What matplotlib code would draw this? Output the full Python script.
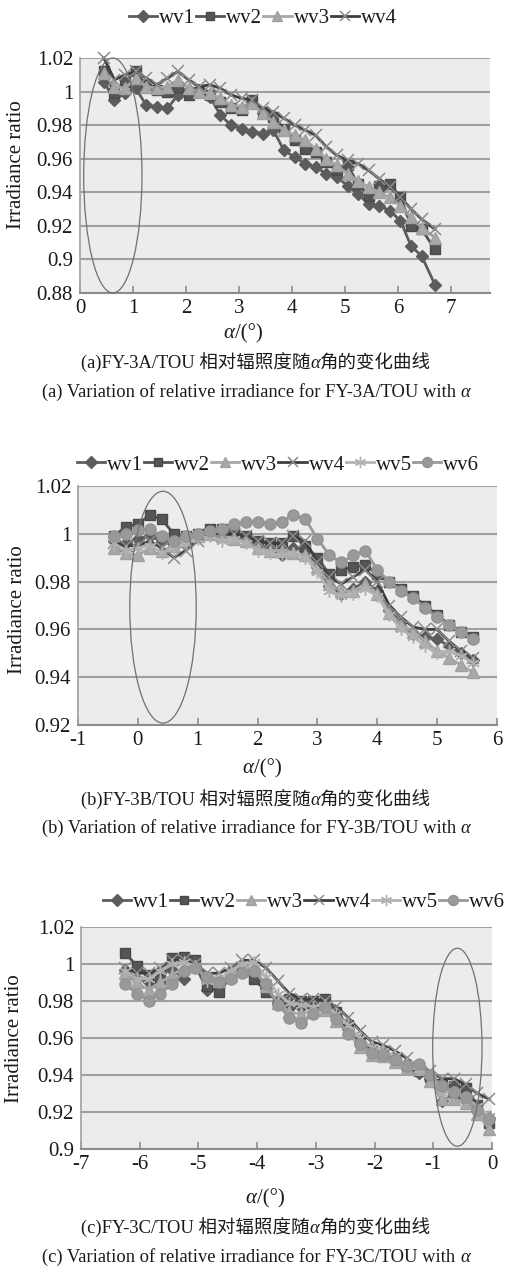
import matplotlib
matplotlib.use('Agg')
import matplotlib.pyplot as plt
from matplotlib.patches import Ellipse

W, H = 511, 1270
FAM = ['Liberation Serif', 'Noto Sans CJK SC', 'DejaVu Sans']
plt.rcParams['font.family'] = FAM
plt.rcParams['axes.unicode_minus'] = False

SERIES = ['wv1', 'wv2', 'wv3', 'wv4', 'wv5', 'wv6']

# ---------------- panel (a) FY-3A ----------------
A_X = [0.45, 0.65, 0.85, 1.05, 1.25, 1.45, 1.65, 1.85, 2.05, 2.25, 2.45, 2.65,
       2.85, 3.05, 3.25, 3.45, 3.65, 3.85, 4.05, 4.25, 4.45, 4.65, 4.85, 5.05,
       5.25, 5.45, 5.65, 5.85, 6.05, 6.25, 6.45, 6.70]
A_WV1 = [1.006, 0.995, 0.999, 1.002, 0.992, 0.991, 0.990, 0.998, 1.001, 1.001, 0.997, 0.986,
         0.980, 0.978, 0.976, 0.975, 0.977, 0.965, 0.961, 0.957, 0.955, 0.951, 0.949, 0.944,
         0.939, 0.933, 0.932, 0.929, 0.923, 0.908, 0.902, 0.885]
A_WV2 = [1.012, 0.999, 1.006, 1.012, 1.004, 1.001, 1.000, 1.003, 0.998, 1.000, 0.998, 0.994,
         0.990, 0.989, 0.995, 0.988, 0.985, 0.978, 0.971, 0.966, 0.964, 0.958, 0.953, 0.956,
         0.945, 0.938, 0.944, 0.945, 0.937, 0.920, 0.918, 0.906]
A_WV3 = [1.011, 1.003, 1.002, 1.008, 1.003, 1.002, 1.003, 1.007, 1.002, 1.000, 0.999, 0.996,
         0.992, 0.991, 0.993, 0.987, 0.982, 0.977, 0.974, 0.971, 0.966, 0.960, 0.956, 0.951,
         0.947, 0.943, 0.940, 0.937, 0.932, 0.925, 0.919, 0.913]
A_WV4 = [1.020, 1.007, 1.010, 1.012, 1.008, 1.004, 1.008, 1.012, 1.007, 1.003, 1.004, 1.002,
         0.998, 0.996, 0.995, 0.990, 0.988, 0.984, 0.980, 0.977, 0.974, 0.967, 0.962, 0.959,
         0.957, 0.953, 0.948, 0.943, 0.937, 0.930, 0.924, 0.918]

# ---------------- panel (b) FY-3B ----------------
B_X = [-0.40, -0.20, 0.00, 0.20, 0.40, 0.60, 0.80, 1.00, 1.20, 1.40, 1.60, 1.80,
       2.00, 2.20, 2.40, 2.60, 2.80, 3.00, 3.20, 3.40, 3.60, 3.80, 4.00, 4.20,
       4.40, 4.60, 4.80, 5.00, 5.20, 5.40, 5.60]
B_WV1 = [0.997, 0.996, 0.998, 0.999, 0.997, 0.995, 0.996, 0.999, 1.000, 0.999, 0.999, 0.998,
         0.995, 0.993, 0.991, 0.994, 0.993, 0.986, 0.978, 0.975, 0.977, 0.980, 0.976, 0.968,
         0.963, 0.958, 0.957, 0.956, 0.953, 0.950, 0.947]
B_WV2 = [0.999, 1.003, 1.004, 1.008, 1.006, 1.000, 0.999, 1.000, 1.002, 1.002, 1.001, 0.999,
         0.997, 0.996, 0.996, 0.999, 0.995, 0.990, 0.983, 0.985, 0.986, 0.987, 0.983, 0.980,
         0.977, 0.974, 0.970, 0.966, 0.962, 0.959, 0.957]
B_WV3 = [0.994, 0.992, 0.991, 0.994, 0.993, 0.995, 0.997, 0.999, 1.000, 0.999, 0.998, 0.997,
         0.994, 0.993, 0.993, 0.992, 0.991, 0.986, 0.979, 0.976, 0.976, 0.979, 0.975, 0.967,
         0.962, 0.959, 0.955, 0.951, 0.948, 0.945, 0.942]
B_WV4 = [0.996, 0.995, 0.995, 0.997, 0.994, 0.990, 0.993, 0.997, 1.000, 1.000, 1.000, 0.999,
         0.997, 0.996, 0.996, 0.999, 0.997, 0.988, 0.982, 0.979, 0.982, 0.985, 0.980, 0.970,
         0.965, 0.961, 0.960, 0.960, 0.955, 0.951, 0.948]
B_WV5 = [0.996, 0.993, 0.994, 0.995, 0.992, 0.994, 0.996, 0.998, 0.999, 0.997, 0.998, 0.996,
         0.993, 0.992, 0.991, 0.992, 0.990, 0.984, 0.976, 0.974, 0.975, 0.977, 0.974, 0.966,
         0.960, 0.957, 0.953, 0.950, 0.951, 0.949, 0.946]
B_WV6 = [0.999, 1.000, 1.0015, 1.002, 0.999, 0.997, 0.999, 1.000, 1.001, 1.002, 1.004, 1.005,
         1.005, 1.004, 1.005, 1.008, 1.006, 0.998, 0.991, 0.988, 0.991, 0.993, 0.985, 0.980,
         0.976, 0.973, 0.969, 0.965, 0.962, 0.959, 0.956]

# ---------------- panel (c) FY-3C ----------------
C_X = [-6.25, -6.05, -5.85, -5.65, -5.45, -5.25, -5.05, -4.85, -4.65, -4.45, -4.25, -4.05,
       -3.85, -3.65, -3.45, -3.25, -3.05, -2.85, -2.65, -2.45, -2.25, -2.05, -1.85, -1.65,
       -1.45, -1.25, -1.05, -0.85, -0.65, -0.45, -0.25, -0.05]
C_WV1 = [0.997, 0.992, 0.990, 0.995, 0.997, 0.992, 0.999, 0.986, 0.988, 0.994, 0.997, 0.997,
         0.987, 0.979, 0.976, 0.977, 0.976, 0.978, 0.972, 0.965, 0.958, 0.954, 0.952, 0.949,
         0.944, 0.941, 0.938, 0.926, 0.929, 0.926, 0.921, 0.917]
C_WV2 = [1.006, 0.999, 0.994, 0.992, 1.003, 1.004, 1.002, 0.988, 0.985, 0.993, 0.996, 0.992,
         0.985, 0.980, 0.981, 0.980, 0.980, 0.981, 0.974, 0.967, 0.959, 0.953, 0.951, 0.949,
         0.945, 0.942, 0.939, 0.935, 0.934, 0.933, 0.924, 0.914]
C_WV3 = [0.995, 0.990, 0.986, 0.990, 0.994, 0.998, 0.999, 0.993, 0.991, 0.994, 0.997, 0.998,
         0.988, 0.979, 0.974, 0.973, 0.975, 0.975, 0.969, 0.963, 0.955, 0.951, 0.950, 0.947,
         0.944, 0.943, 0.937, 0.927, 0.927, 0.925, 0.919, 0.911]
C_WV4 = [0.998, 0.995, 0.995, 0.998, 1.002, 1.002, 1.000, 0.995, 0.995, 0.998, 1.002, 1.002,
         0.998, 0.991, 0.984, 0.981, 0.981, 0.980, 0.977, 0.971, 0.964, 0.958, 0.956, 0.953,
         0.949, 0.944, 0.942, 0.938, 0.938, 0.935, 0.930, 0.927]
C_WV5 = [0.996, 0.992, 0.992, 0.996, 1.000, 1.001, 0.999, 0.991, 0.992, 0.996, 1.000, 1.001,
         0.993, 0.984, 0.979, 0.978, 0.977, 0.978, 0.973, 0.967, 0.960, 0.955, 0.953, 0.950,
         0.946, 0.943, 0.940, 0.930, 0.931, 0.928, 0.923, 0.918]
C_WV6 = [0.989, 0.984, 0.980, 0.984, 0.989, 0.996, 0.998, 0.993, 0.990, 0.992, 0.995, 0.996,
         0.989, 0.978, 0.971, 0.968, 0.973, 0.977, 0.970, 0.962, 0.957, 0.952, 0.951, 0.948,
         0.945, 0.946, 0.940, 0.934, 0.931, 0.928, 0.921, 0.916]

A_YTICKS = [0.88, 0.90, 0.92, 0.94, 0.96, 0.98, 1.00, 1.02]
A_YLABELS = ['0.88', '0.9', '0.92', '0.94', '0.96', '0.98', '1', '1.02']
A_XTICKS = [0, 1, 2, 3, 4, 5, 6, 7]
A_XLABELS = ['0', '1', '2', '3', '4', '5', '6', '7']
B_YTICKS = [0.92, 0.94, 0.96, 0.98, 1.00, 1.02]
B_YLABELS = ['0.92', '0.94', '0.96', '0.98', '1', '1.02']
B_XTICKS = [-1, 0, 1, 2, 3, 4, 5, 6]
B_XLABELS = ['-1', '0', '1', '2', '3', '4', '5', '6']
C_YTICKS = [0.90, 0.92, 0.94, 0.96, 0.98, 1.00, 1.02]
C_YLABELS = ['0.9', '0.92', '0.94', '0.96', '0.98', '1', '1.02']
C_XTICKS = [-7, -6, -5, -4, -3, -2, -1, 0]
C_XLABELS = ['-7', '-6', '-5', '-4', '-3', '-2', '-1', '0']

CAP_CN = ['(a)FY-3A/TOU 相对辐照度随', '(b)FY-3B/TOU 相对辐照度随', '(c)FY-3C/TOU 相对辐照度随']
CAP_CN_END = '角的变化曲线'
CAP_EN = ['(a) Variation of relative irradiance for FY-3A/TOU with ',
          '(b) Variation of relative irradiance for FY-3B/TOU with ',
          '(c) Variation of relative irradiance for FY-3C/TOU with ']

# styles per series
STYLE = {
    'wv1': dict(color='#5c5c5c', marker='D', mfc='#5c5c5c', mec='#5c5c5c', ms=6.5, mew=1.0),
    'wv2': dict(color='#545454', marker='s', mfc='#555555', mec='#4a4a4a', ms=7.0, mew=1.0),
    'wv3': dict(color='#a8a8a8', marker='^', mfc='#a8a8a8', mec='#a0a0a0', ms=8.0, mew=1.0),
    'wv4': dict(color='#3e3e3e', marker='x', mfc='#8c8c8c', mec='#8c8c8c', ms=8.0, mew=1.1),
    'wv5': dict(color='#b4b4b4', marker=(6, 2, 0), mfc='#b4b4b4', mec='#b0b0b0', ms=9.0, mew=1.0),
    'wv6': dict(color='#999999', marker='o', mfc='#999999', mec='#939393', ms=8.0, mew=1.0),
}

fig = plt.figure(figsize=(W / 100, H / 100), dpi=100)
fig.patch.set_facecolor('white')


def px_axes(l, t, r, b):
    return fig.add_axes([l / W, 1 - b / H, (r - l) / W, (b - t) / H])


def frag_text(cx, base_y, frags, size):
    renderer = fig.canvas.get_renderer()
    objs = []
    for s, st in frags:
        objs.append(fig.text(0, 1 - base_y / H, s, fontsize=size, style=st,
                             ha='left', va='baseline', family=FAM, color='#1a1a1a'))
    widths = [o.get_window_extent(renderer).width for o in objs]
    x = cx - sum(widths) / 2
    for o, w in zip(objs, widths):
        o.set_x(x / W)
        x += w


def panel(box, X, data, names, xlim, ylim, xt, xl, yt, yl, ell, leg_c, xlab_c, ylab_c,
          cap_cn, cap_en, cap_y):
    ax = px_axes(*box)
    ax.set_facecolor('#ececec')
    for n, y in zip(names, data):
        s = STYLE[n]
        ax.plot(X, y, color=s['color'], lw=2.0, marker=s['marker'], mfc=s['mfc'],
                mec=s['mec'], ms=s['ms'], mew=s['mew'], label=n, clip_on=False)
    ax.set_xlim(*xlim)
    ax.set_ylim(*ylim)
    ax.set_xticks(xt)
    ax.set_xticklabels(xl)
    ax.set_yticks(yt)
    ax.set_yticklabels(yl)
    ax.grid(axis='y', color='#a0a0a0', lw=1.5)
    ax.set_axisbelow(True)
    for sp in ['top', 'right']:
        ax.spines[sp].set_visible(False)
    ax.spines['left'].set_color('#a0a0a0')
    ax.spines['left'].set_linewidth(1.2)
    ax.spines['bottom'].set_color('#8c8c8c')
    ax.spines['bottom'].set_linewidth(1.5)
    ax.tick_params(axis='x', direction='in', length=5, width=1.2, color='#8c8c8c',
                   labelsize=15, pad=4, labelcolor='#1a1a1a')
    ax.tick_params(axis='y', length=0, labelsize=15, pad=5, labelcolor='#1a1a1a')
    e = Ellipse(ell[0], ell[1], ell[2], fill=False, ec='#707070', lw=0.9, zorder=6,
                clip_on=False)
    ax.add_patch(e)
    ax.legend(loc='center', bbox_to_anchor=(leg_c[0] / W, 1 - leg_c[1] / H),
              bbox_transform=fig.transFigure, ncol=len(names), frameon=False,
              fontsize=15, handlelength=1.35, handletextpad=0.1, columnspacing=0.05,
              borderaxespad=0, borderpad=0, labelcolor='#1a1a1a', markerscale=0.9)
    frag_text(xlab_c[0], xlab_c[1] + 6, [('α', 'italic'), ('/(°)', 'normal')], 15)
    fig.text(ylab_c[0] / W, 1 - ylab_c[1] / H, 'Irradiance ratio', rotation=90,
             ha='center', va='center', fontsize=15, color='#1a1a1a')
    frag_text(256, cap_y[0] + 5, [(cap_cn, 'normal'), ('α', 'italic'), (CAP_CN_END, 'normal')], 13.3)
    frag_text(256, cap_y[1] + 5, [(cap_en, 'normal'), ('α', 'italic')], 13.3)
    return ax


panel((80, 58, 490, 293), A_X, [A_WV1, A_WV2, A_WV3, A_WV4], SERIES[:4],
      (0, 7.74), (0.88, 1.02), A_XTICKS, A_XLABELS, A_YTICKS, A_YLABELS,
      ((0.62, 0.95), 1.1, 0.14), (263, 18), (243, 332), (17, 165),
      CAP_CN[0], CAP_EN[0], (363, 392))

panel((78, 486, 497, 725), B_X, [B_WV1, B_WV2, B_WV3, B_WV4, B_WV5, B_WV6], SERIES,
      (-1, 6), (0.92, 1.02), B_XTICKS, B_XLABELS, B_YTICKS, B_YLABELS,
      ((0.42, 0.9693), 1.11, 0.097), (278, 465), (262, 767), (18, 610),
      CAP_CN[1], CAP_EN[1], (800, 828))

panel((81, 927, 492, 1149), C_X, [C_WV1, C_WV2, C_WV3, C_WV4, C_WV5, C_WV6], SERIES,
      (-7, 0), (0.90, 1.02), C_XTICKS, C_XLABELS, C_YTICKS, C_YLABELS,
      ((-0.59, 0.955), 0.84, 0.107), (304, 902), (265, 1197), (15, 1039),
      CAP_CN[2], CAP_EN[2], (1228, 1257))

fig.savefig('out.png', dpi=100, facecolor='white')
